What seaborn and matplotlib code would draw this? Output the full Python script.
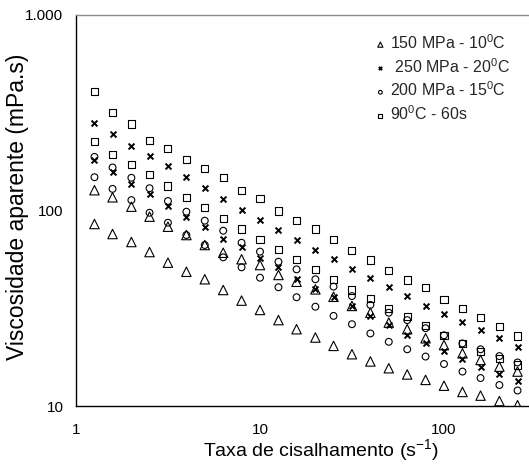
import numpy as np
import pandas as pd
import matplotlib
matplotlib.use("Agg")
import matplotlib.pyplot as plt
import seaborn as sns

# ---- data ----
shear_rate = [1.26, 1.58, 2.0, 2.51, 3.16, 3.98, 5.01, 6.31, 7.94, 10.0,
              12.6, 15.8, 20.0, 25.1, 31.6, 39.8, 50.1, 63.1, 79.4, 100.0,
              126.0, 158.0, 200.0, 251.0]

tri_up = [127, 116.8, 104.6, 93.0, 82.6, 74.9, 66.6, 60.8, 56.3, 52.6,
          46.8, 43.2, 39.5, 36.2, 32.5, 30.0, 26.7, 24.7, 22.2, 20.5,
          18.6, 17.2, 15.9, 15.0]
tri_down = [85.3, 75.8, 69.0, 61.3, 54.1, 48.6, 44.5, 39.2, 34.6, 31.0,
            27.5, 24.7, 22.4, 20.3, 18.4, 16.9, 15.6, 14.5, 13.6, 12.7,
            11.8, 11.3, 10.6, 10.1]
x_up = [281, 246, 214, 190, 169, 149, 130, 114, 100.6, 89.4,
        79.5, 70.7, 62.8, 56.3, 50.2, 45.0, 40.6, 36.5, 32.6, 29.6,
        27.0, 24.5, 22.2, 20.1]
x_down = [181, 158, 136, 121, 105.4, 92.3, 82.0, 71.2, 65.3, 56.9,
          51.2, 44.5, 39.5, 36.2, 32.5, 28.9, 26.0, 23.1, 20.9, 19.1,
          17.3, 15.9, 14.6, 13.4]
circ_up = [188, 166, 147, 130, 111.8, 98.6, 88.7, 78.8, 68.4, 61.6,
           54.7, 50.0, 44.5, 40.8, 36.5, 32.9, 30.0, 27.5, 25.0, 23.0,
           20.9, 19.5, 18.0, 16.7]
circ_down = [148, 129, 113, 97.4, 86.6, 74.9, 66.6, 57.6, 51.2, 45.3,
             40.5, 36.0, 32.2, 28.9, 26.2, 23.5, 21.3, 19.5, 17.9, 16.4,
             15.0, 13.9, 12.8, 12.0]
sq_up = [405, 318, 277, 229, 207, 183, 164, 147, 127, 115,
         99.4, 88.7, 80.4, 70.7, 62.3, 55.8, 49.2, 44.1, 40.3, 35.1,
         31.6, 28.3, 25.4, 22.8]
sq_down = [225, 194, 172, 152, 133.5, 116.8, 103.3, 91.2, 80.4, 71.2,
           63.3, 56.3, 50.0, 44.5, 39.2, 35.6, 31.7, 28.6, 25.7, 23.0,
           20.9, 19.1, 17.5, 16.2]

series_labels = ["150 MPa - 10$^{\\mathregular{0}}$C",
                 " 250 MPa - 20$^{\\mathregular{0}}$C",
                 "200 MPa - 15$^{\\mathregular{0}}$C",
                 "90$^{\\mathregular{0}}$C - 60s"]
x_ticks = [1, 10, 100]
x_tick_labels = ["1", "10", "100"]
y_ticks = [10, 100, 1000]
y_tick_labels = ["10", "100", "1.000"]
x_label = "Taxa de cisalhamento (s$^{\\mathregular{-1}}$)"
y_label = "Viscosidade aparente (mPa.s)"

branches = [(tri_up, tri_down), (x_up, x_down), (circ_up, circ_down), (sq_up, sq_down)]
rows = []
for lab, (up, down) in zip(series_labels, branches):
    for xv, yv in zip(shear_rate, up):
        rows.append((lab, "up", xv, yv))
    for xv, yv in zip(shear_rate, down):
        rows.append((lab, "down", xv, yv))
df = pd.DataFrame(rows, columns=["serie", "ramo", "taxa", "visc"])

# ---- style ----
sns.set_style("white")
plt.rcParams["font.family"] = ["Liberation Sans", "DejaVu Sans"]
plt.rcParams["mathtext.fontset"] = "custom"
plt.rcParams["mathtext.rm"] = "Liberation Sans"
plt.rcParams["mathtext.it"] = "Liberation Sans:italic"
plt.rcParams["mathtext.bf"] = "Liberation Sans:bold"

fig = plt.figure(figsize=(5.29, 4.70), dpi=100)
ax = fig.add_axes([76 / 529, (470 - 406) / 470, (529 - 76) / 529, (406 - 15) / 470])

styles = {
    series_labels[0]: dict(marker="^", s=46, color="none", edgecolor="black", linewidth=0.8),
    series_labels[1]: dict(marker="x", s=18, color="black", linewidth=1.4),
    series_labels[2]: dict(marker="o", s=24, color="none", edgecolor="black", linewidth=0.8),
    series_labels[3]: dict(marker="s", s=26, color="none", edgecolor="black", linewidth=0.8),
}
for lab in series_labels:
    sub = df[df["serie"] == lab]
    sns.scatterplot(data=sub, x="taxa", y="visc", ax=ax, label=lab, **styles[lab])

ax.set_xscale("log")
ax.set_yscale("log")
ax.set_xlim(1, 10 ** ((529 - 76) / 184))
ax.set_ylim(10, 1000)
ax.set_xticks(x_ticks, labels=x_tick_labels)
ax.set_yticks(y_ticks, labels=y_tick_labels)
ax.minorticks_off()
ax.tick_params(axis="both", which="major", direction="out", length=5, width=1,
               color="black", labelsize=11, labelcolor="black", pad=4)
ax.tick_params(axis="x", pad=7)

for sp in ["left", "bottom"]:
    ax.spines[sp].set_color("black")
    ax.spines[sp].set_linewidth(1)
ax.spines["top"].set_color("#8c8c8c")
ax.spines["top"].set_linewidth(1)
ax.spines["right"].set_visible(False)

ax.set_xlabel(x_label, fontsize=14, color="black")
ax.set_ylabel(y_label, fontsize=16.5, color="black")
ax.xaxis.set_label_coords((321 - 76) / 453, -0.08)
ax.yaxis.set_label_coords((29 - 76) / 453, 0.51)

leg = ax.legend(loc="upper left", bbox_to_anchor=((366 - 76) / 453, 0.97), frameon=False,
                fontsize=11.5, markerscale=0.55, handletextpad=0.1, labelspacing=0.32,
                borderaxespad=0, handlelength=1.0)

fig.savefig("out.png", dpi=100)
